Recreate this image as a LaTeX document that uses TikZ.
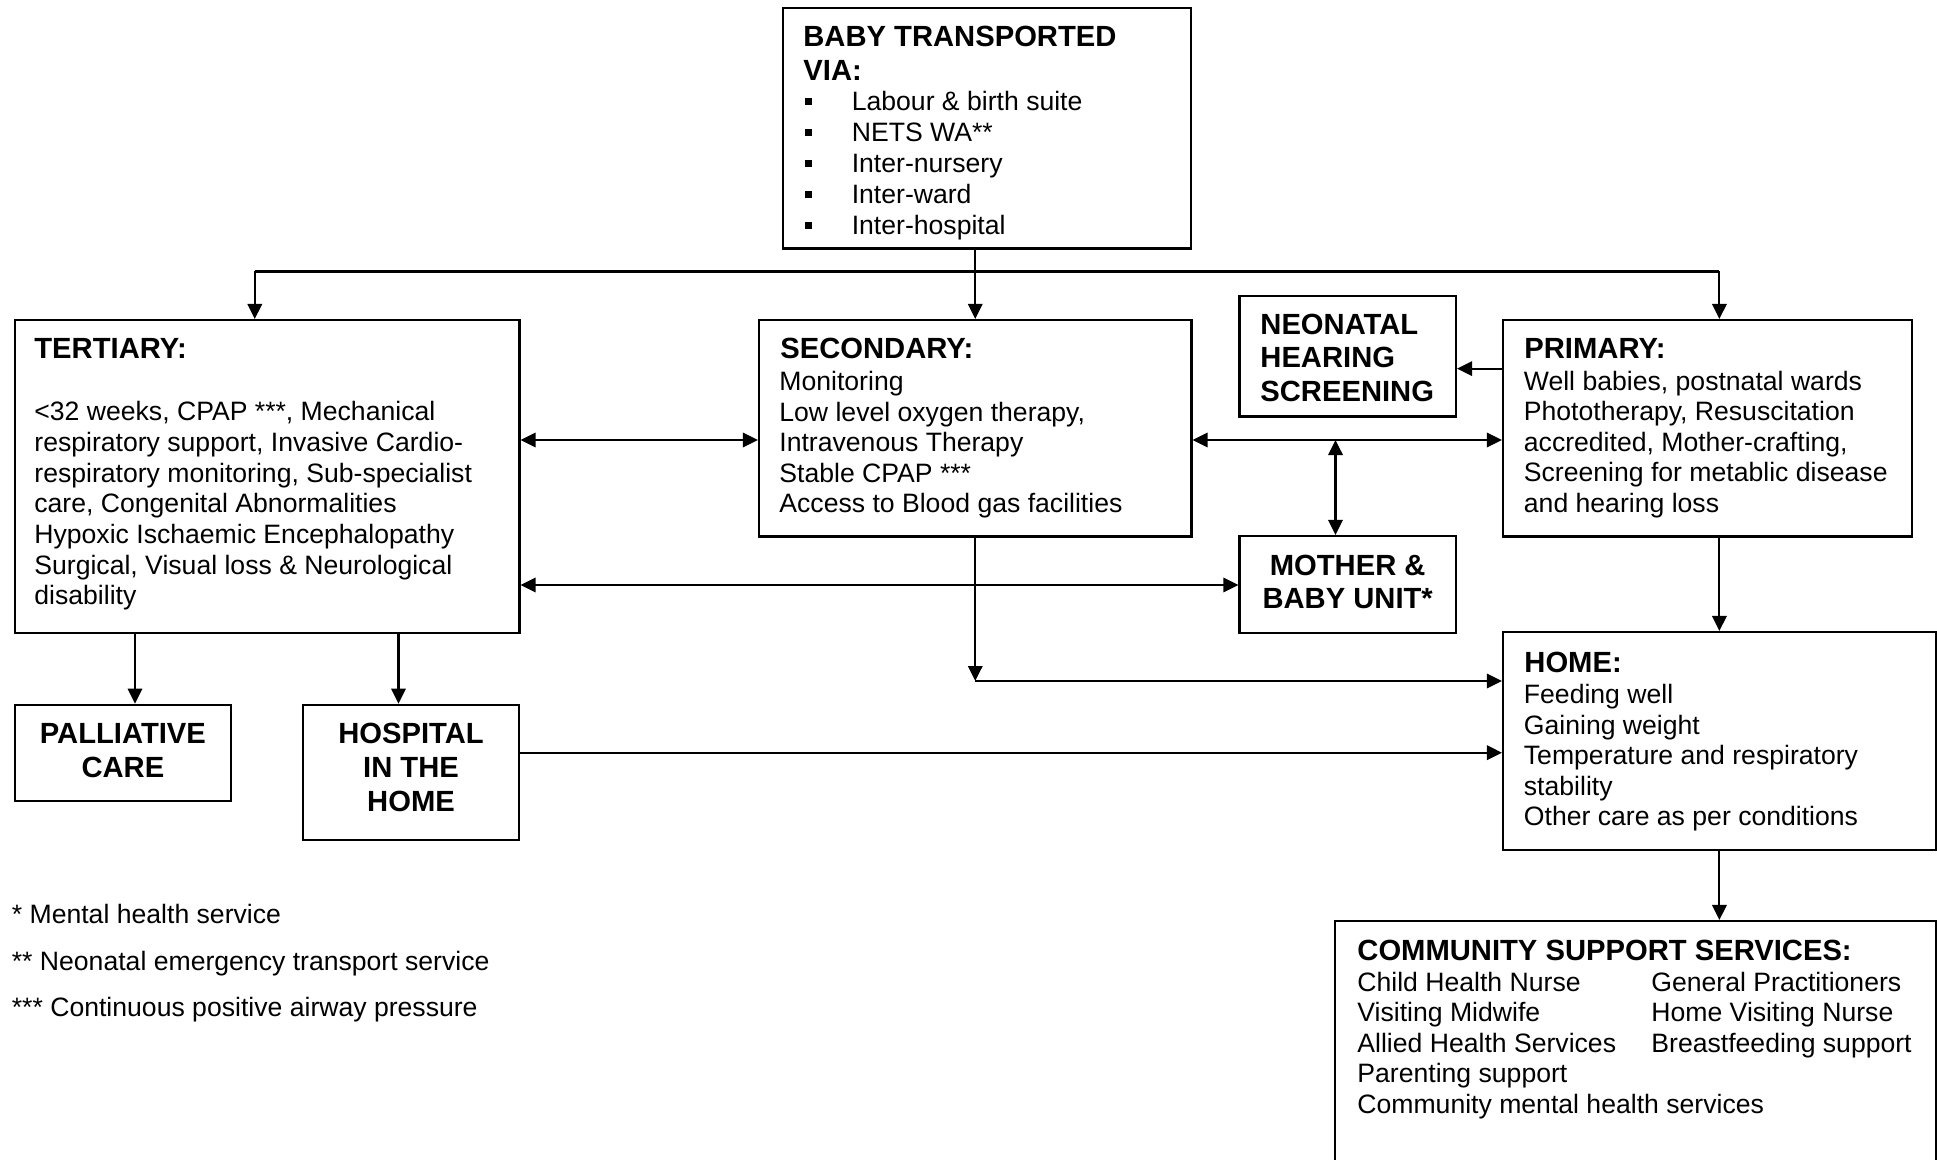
\documentclass[tikz,border=0pt]{standalone}
\usepackage{fontspec}
\setmainfont{Liberation Sans}
\usetikzlibrary{arrows.meta,fit}
\newcommand\rowsL[1]{\begin{tabular}[t]{@{}l@{}}#1\end{tabular}}
\newcommand\rowsC[1]{\begin{tabular}[t]{@{}c@{}}#1\end{tabular}}
\newcommand\sqb{\raisebox{3pt}{\rule{3.4pt}{3.4pt}}}
\begin{document}
\begin{tikzpicture}[x=0.5pt,y=-0.5pt,
  box/.style={draw=black,line width=1.05pt,inner sep=0pt,rectangle},
  body/.style={inner sep=0pt,anchor=base west,font=\fontsize{13.3pt}{15.25pt}\selectfont},
  head/.style={inner sep=0pt,anchor=base west,font=\fontsize{14.6pt}{17pt}\selectfont\bfseries},
  headc/.style={head,anchor=base},
  ln/.style={line width=1.05pt},
  arr/.style={line width=1.05pt,-{Triangle[length=7.5pt,width=7.2pt]}},
  darr/.style={line width=1.05pt,{Triangle[length=7.5pt,width=7.2pt]}-{Triangle[length=7.5pt,width=7.2pt]}}]
\useasboundingbox (0,0) rectangle (1937,1160);

% boxes
\node[box,fit={(783,8)(1191,248.5)}] (baby) {};
\node[box,fit={(15,320)(519.5,633)}] (tert) {};
\node[box,fit={(759,320)(1191.5,536.5)}] (sec) {};
\node[box,fit={(1239.5,296)(1456,416.5)}] (nhs) {};
\node[box,fit={(1503,320)(1912,536.5)}] (prim) {};
\node[box,fit={(1239.5,536)(1456,632.7)}] (mother) {};
\node[box,fit={(1503,632)(1935.6,850)}] (home) {};
\node[box,fit={(14.7,704.7)(231,801.3)}] (pall) {};
\node[box,fit={(303,704.7)(519,840.3)}] (hosp) {};
\node[box,fit={(1335.3,921)(1935.8,1200)}] (comm) {};

% texts
\node[head] (babyh) at (803,47) {\rowsL{BABY TRANSPORTED\\VIA:}};
\node[body,font=\fontsize{13.3pt}{15.5pt}\selectfont] (babyl) at (805,111)
  {\begin{tabular}[t]{@{}l@{\hspace{19.8pt}}l@{}}
   \sqb & Labour \& birth suite\\
   \sqb & NETS WA**\\
   \sqb & Inter-nursery\\
   \sqb & Inter-ward\\
   \sqb & Inter-hospital
   \end{tabular}};

\node[head] (terth) at (34,359) {TERTIARY:};
\node[body,font=\fontsize{13.3pt}{15.33pt}\selectfont] (tertb) at (34,421)
  {\rowsL{<32 weeks, CPAP ***, Mechanical\\respiratory support, Invasive Cardio-\\respiratory monitoring, Sub-specialist\\care, Congenital Abnormalities\\Hypoxic Ischaemic Encephalopathy\\Surgical, Visual loss \& Neurological\\disability}};

\node[head] (sech) at (780,359) {SECONDARY:};
\node[body] (secb) at (779,391)
  {\rowsL{Monitoring\\Low level oxygen therapy,\\Intravenous Therapy\\Stable CPAP ***\\Access to Blood gas facilities}};

\node[head,font=\fontsize{14.6pt}{16.75pt}\selectfont\bfseries] (nhst) at (1260,334.5)
  {\rowsL{NEONATAL\\HEARING\\SCREENING}};

\node[head] (primh) at (1524,359) {PRIMARY:};
\node[body] (primb) at (1523.5,390.5)
  {\rowsL{Well babies, postnatal wards\\Phototherapy, Resuscitation\\accredited, Mother-crafting,\\Screening for metablic disease\\and hearing loss}};

\node[headc,font=\fontsize{14.6pt}{16.5pt}\selectfont\bfseries] (mothert) at (1347.7,575)
  {\rowsC{MOTHER \&\\BABY UNIT*}};

\node[head] (homeh) at (1524,672) {HOME:};
\node[body] (homeb) at (1523.5,703.5)
  {\rowsL{Feeding well\\Gaining weight\\Temperature and respiratory\\stability\\Other care as per conditions}};

\node[headc] (pallt) at (122.9,743) {\rowsC{PALLIATIVE\\CARE}};
\node[headc] (hospt) at (411,743) {\rowsC{HOSPITAL\\IN THE\\HOME}};

\node[head] (commh) at (1357,960.5) {COMMUNITY SUPPORT SERVICES:};
\node[body,font=\fontsize{13.3pt}{15.3pt}\selectfont] (comma) at (1357,991)
  {\rowsL{Child Health Nurse\\Visiting Midwife\\Allied Health Services\\Parenting support\\Community mental health services}};
\node[body,font=\fontsize{13.3pt}{15.3pt}\selectfont] (commb) at (1651,991)
  {\rowsL{General Practitioners\\Home Visiting Nurse\\Breastfeeding support}};

\node[body,font=\fontsize{13.3pt}{23.25pt}\selectfont] (notes) at (11.5,923.5)
  {\rowsL{* Mental health service\\\relax ** Neonatal emergency transport service\\\relax *** Continuous positive airway pressure}};

% connectors
\coordinate (jl) at (254.8,271.5);
\coordinate (jr) at (1719.4,271.5);
\coordinate (r1) at (0,440);
\coordinate (r2) at (0,368.6);
\coordinate (r3) at (0,585);
\coordinate (r4) at (0,752.7);
\coordinate (r5) at (0,681);
\coordinate (c1) at (1335.5,440);
\coordinate (c2) at (135,0);
\coordinate (c3) at (398.5,0);

\draw[ln] (jl) -- (jr);
\draw[arr] (jl) -- (jl |- tert.north);
\draw[arr] (jr) -- (jr |- prim.north);
\draw[arr] (baby.south -| sec.north) -- (sec.north);
\draw[darr] (tert.east |- r1) -- (sec.west |- r1);
\draw[darr] (sec.east |- r1) -- (prim.west |- r1);
\draw[darr] (c1) -- (c1 |- mother.north);
\draw[arr] (prim.west |- r2) -- (nhs.east |- r2);
\draw[darr] (tert.east |- r3) -- (mother.west |- r3);
\draw[arr] (tert.south -| c2) -- (pall.north -| c2);
\draw[arr] (tert.south -| c3) -- (hosp.north -| c3);
\draw[arr] (sec.south) -- (sec.south |- r5);
\draw[arr] (sec.south |- r5) -- (home.west |- r5);
\draw[arr] (hosp.east |- r4) -- (home.west |- r4);
\draw[arr] (prim.south -| jr) -- (home.north -| jr);
\draw[arr] (home.south -| jr) -- (comm.north -| jr);
\end{tikzpicture}
\end{document}
